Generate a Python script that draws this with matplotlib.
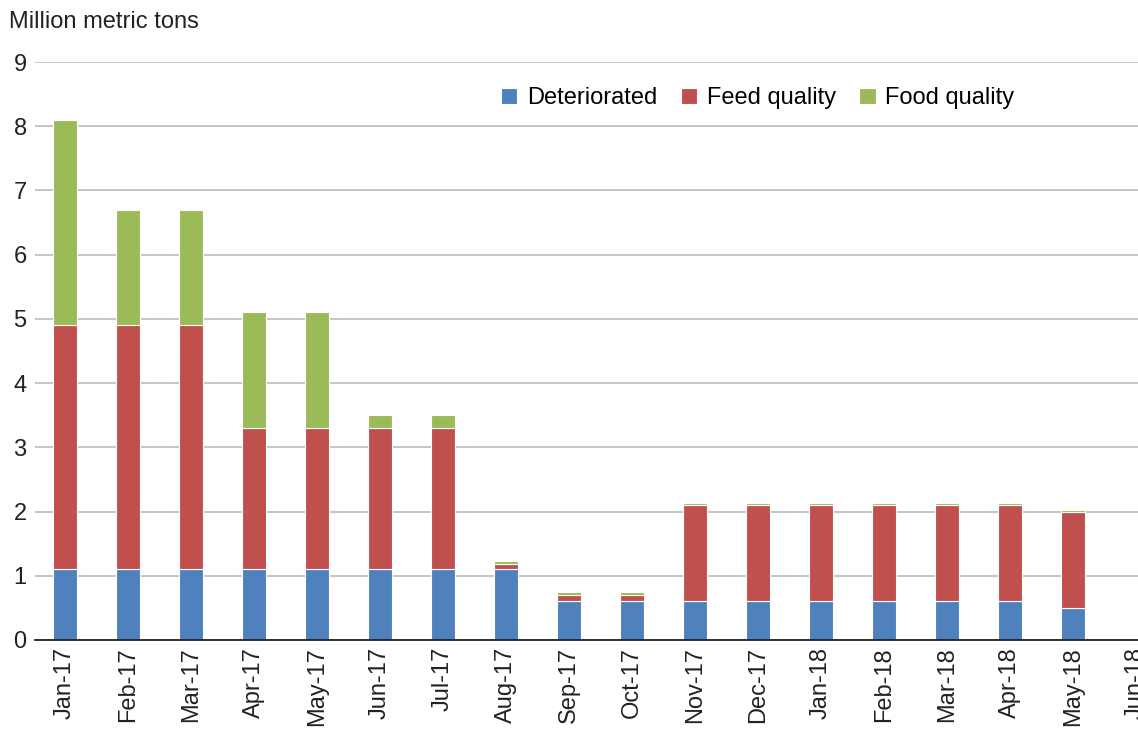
import matplotlib
matplotlib.use("Agg")
import matplotlib.pyplot as plt
import numpy as np

plt.rcParams['font.family'] = ['Liberation Sans', 'DejaVu Sans']

# Dados (milhões de toneladas)
meses = ["Jan-17", "Feb-17", "Mar-17", "Apr-17", "May-17", "Jun-17", "Jul-17",
         "Aug-17", "Sep-17", "Oct-17", "Nov-17", "Dec-17", "Jan-18", "Feb-18",
         "Mar-18", "Apr-18", "May-18", "Jun-18"]
deteriorated = [1.1, 1.1, 1.1, 1.1, 1.1, 1.1, 1.1, 1.1, 0.6, 0.6, 0.6, 0.6,
                0.6, 0.6, 0.6, 0.6, 0.5, 0]
feed_quality = [3.8, 3.8, 3.8, 2.2, 2.2, 2.2, 2.2, 0.08, 0.1, 0.1, 1.5, 1.5,
                1.5, 1.5, 1.5, 1.5, 1.5, 0]
food_quality = [3.2, 1.8, 1.8, 1.8, 1.8, 0.2, 0.2, 0.05, 0.04, 0.04, 0.04, 0.04,
                0.04, 0.04, 0.04, 0.04, 0.03, 0]

cor_azul = '#4F81BD'
cor_verm = '#C0504D'
cor_verde = '#9BBB59'

fig = plt.figure(figsize=(11.38, 7.29), dpi=100)
ax = fig.add_axes([35 / 1138, 1 - 640 / 729, 1 - 35 / 1138, (640 - 62) / 729])

x = np.arange(len(meses))
w = 0.38
d = np.array(deteriorated)
f = np.array(feed_quality)
g = np.array(food_quality)

ax.bar(x, d, w, color=cor_azul, edgecolor='white', linewidth=0.8, label="Deteriorated", zorder=3)
ax.bar(x, f, w, bottom=d, color=cor_verm, edgecolor='white', linewidth=0.8, label="Feed quality", zorder=3)
ax.bar(x, g, w, bottom=d + f, color=cor_verde, edgecolor='white', linewidth=0.8, label="Food quality", zorder=3)

ax.set_xlim(-0.476, 17.03)
ax.set_ylim(0, 9)
ax.set_yticks(range(0, 10))
ax.tick_params(axis='y', length=0, labelsize=17, pad=6, colors='#222222')
ax.set_xticks(x)
ax.set_xticklabels(meses, rotation=90, fontsize=17, color='#222222')
ax.tick_params(axis='x', length=0, pad=5)

ax.grid(axis='y', color='#bbbbbb', linewidth=1.2, zorder=0)
for lado in ['top', 'right', 'left']:
    ax.spines[lado].set_visible(False)
ax.spines['bottom'].set_color('#222222')
ax.spines['bottom'].set_linewidth(1.3)
ax.spines['bottom'].set_zorder(4)

fig.text(9 / 1138, 1 - 22 / 729, "Million metric tons", fontsize=17, color='#222222', va='center')

ax.legend(loc='upper left', bbox_to_anchor=(0.403, 0.993), ncol=3, frameon=False,
          fontsize=17, handlelength=0.7, handleheight=0.7, handletextpad=0.4,
          columnspacing=1.0)

fig.savefig("out.png", dpi=100)
